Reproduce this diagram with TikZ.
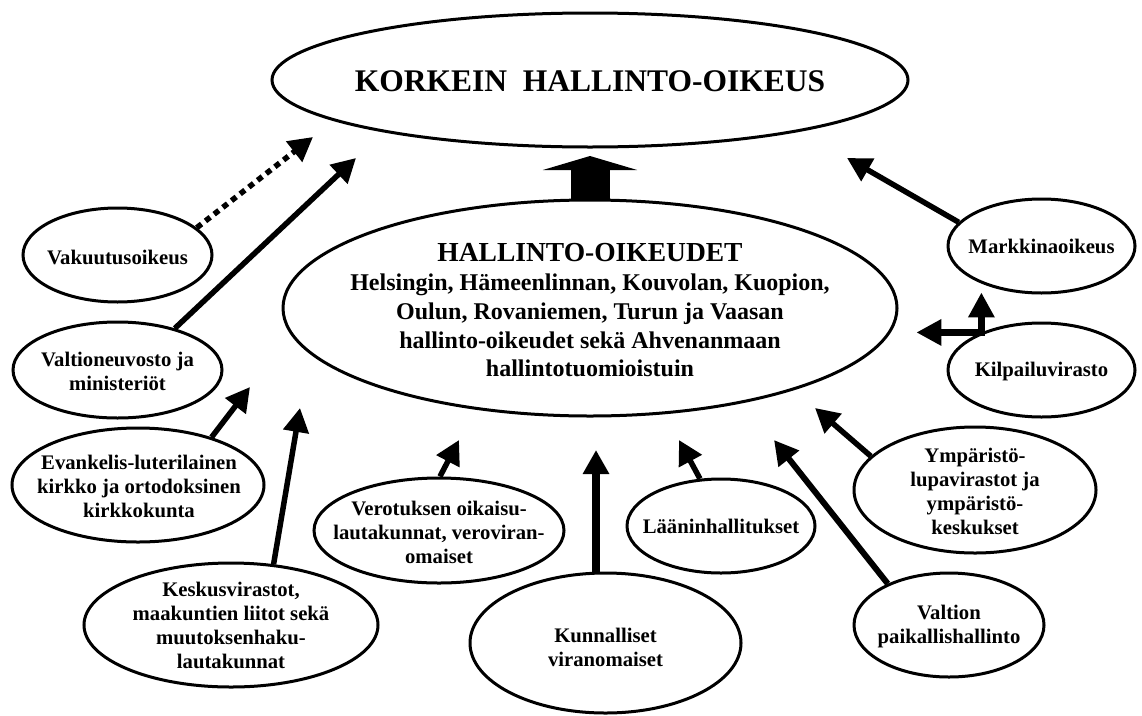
\documentclass[tikz,border=0pt]{standalone}
\usepackage{fontspec}
\setmainfont{Liberation Serif}
\usetikzlibrary{arrows.meta,shapes.geometric,calc}
\begin{document}
\begin{tikzpicture}[x=1pt,y=-1pt,
  ell/.style={ellipse, draw, line width=3pt, inner sep=0pt},
  lbl/.style={align=center, inner sep=0pt, font=\bfseries\fontsize{20.7}{24}\selectfont},
  arr/.style={line width=5.5pt, -{Triangle[length=24pt,width=25pt]}},
  karr/.style={line width=7pt, {Triangle[length=25pt,width=25pt]}-{Triangle[length=25pt,width=25pt]}},
  blk/.style={line width=39pt, -{Triangle[length=14pt,width=94pt]}},
]
\fill[white] (0,0) rectangle (1142,715);
\useasboundingbox (0,0) rectangle (1142,715);

% main ellipses
\node[ell, minimum width=636pt, minimum height=134pt] (kho) at (590,80) {};
\node[inner sep=0pt, font=\bfseries\fontsize{31.5}{36}\selectfont] (khoT) at (590,81) {KORKEIN~ HALLINTO-OIKEUS};

\node[ell, minimum width=614pt, minimum height=216pt] (ho) at (590,308) {};
\node[lbl, font=\bfseries\fontsize{24}{28.75}\selectfont] (hoT) at (590,310.5)
  {{\fontsize{27.5}{28.75}\selectfont HALLINTO-OIKEUDET}\\
   Helsingin, Hämeenlinnan, Kouvolan, Kuopion,\\
   Oulun, Rovaniemen, Turun ja Vaasan\\
   hallinto-oikeudet sekä Ahvenanmaan\\
   hallintotuomioistuin};

% small ellipses
\node[ell, minimum width=189pt, minimum height=94pt] (vak) at (117.5,255) {};
\node[lbl] (vakT) at (117.5,257) {Vakuutusoikeus};

\node[ell, minimum width=209pt, minimum height=96pt] (valt) at (117.5,370) {};
\node[lbl] (valtT) at (117.5,371) {Valtioneuvosto ja\\ ministeriöt};

\node[ell, minimum width=252pt, minimum height=114pt] (evan) at (138,485) {};
\node[lbl] (evanT) at (139,486) {Evankelis-luterilainen\\ kirkko ja ortodoksinen\\ kirkkokunta};

\node[ell, minimum width=294pt, minimum height=124pt] (kesk) at (231,625) {};
\node[lbl] (keskT) at (231,625) {Keskusvirastot,\\ maakuntien liitot sekä\\ muutoksenhaku-\\ lautakunnat};

\node[ell, minimum width=250pt, minimum height=105pt] (vero) at (439,530.5) {};
\node[lbl] (veroT) at (439,532) {Verotuksen oikaisu-\\ lautakunnat, veroviran-\\ omaiset};

\node[ell, minimum width=271pt, minimum height=140pt] (kunn) at (605.5,643) {};
\node[lbl] (kunnT) at (605.5,647) {Kunnalliset\\ viranomaiset};

\node[ell, minimum width=188pt, minimum height=94pt] (laan) at (721,526) {};
\node[lbl] (laanT) at (721,526) {Lääninhallitukset};

\node[ell, minimum width=190pt, minimum height=104pt] (valtion) at (949,625) {};
\node[lbl] (valtionT) at (949,627) {Valtion\\ paikallishallinto};

\node[ell, minimum width=242pt, minimum height=126pt] (ymp) at (975,490) {};
\node[lbl] (ympT) at (975,491.5) {Ympäristö-\\ lupavirastot ja\\ ympäristö-\\ keskukset};

\node[ell, minimum width=187pt, minimum height=94pt] (mark) at (1041.5,246) {};
\node[lbl] (markT) at (1041.5,246) {Markkinaoikeus};

\node[ell, minimum width=187pt, minimum height=94pt] (kilp) at (1041.5,370) {};
\node[lbl] (kilpT) at (1041.5,372) {Kilpailuvirasto};

% arrow tips
\coordinate (tBlk) at (590,156);
\coordinate (tVak) at (313,137);
\coordinate (tValt) at (356,158);
\coordinate (tEvan) at (250,387);
\coordinate (tKesk) at (300,408);
\coordinate (tVero) at (459,440);
\coordinate (tKunn) at (596,450);
\coordinate (tLaan) at (679,440);
\coordinate (tValtion) at (774,440);
\coordinate (tYmp) at (815,408);
\coordinate (tMark) at (847,158);
\coordinate (kc) at (kilp.148);
\coordinate (kUp) at ($(kc)+(0,-40)$);
\coordinate (kLeft) at ($(kc)+(-65,0)$);

% connectors
\draw[blk] (ho.north) -- (tBlk);
\draw[arr, dash pattern=on 6pt off 5pt] (vak.19) -- (tVak);
\draw[arr] (valt.36) -- (tValt);
\draw[arr] (evan.33) -- (tEvan);
\draw[arr] (kesk.55) -- (tKesk);
\draw[arr] (vero.89) -- (tVero);
\draw[arr, line width=8pt] (tKunn |- kunn.north) -- (tKunn);
\draw[arr] (laan.114) -- (tLaan);
\draw[arr, line width=6pt] (valtion.146) -- (tValtion);
\draw[arr] (ymp.162) -- (tYmp);
\draw[arr] (mark.164) -- (tMark);
\draw[karr] (kUp) -- (kc) -- (kLeft);
\end{tikzpicture}
\end{document}
